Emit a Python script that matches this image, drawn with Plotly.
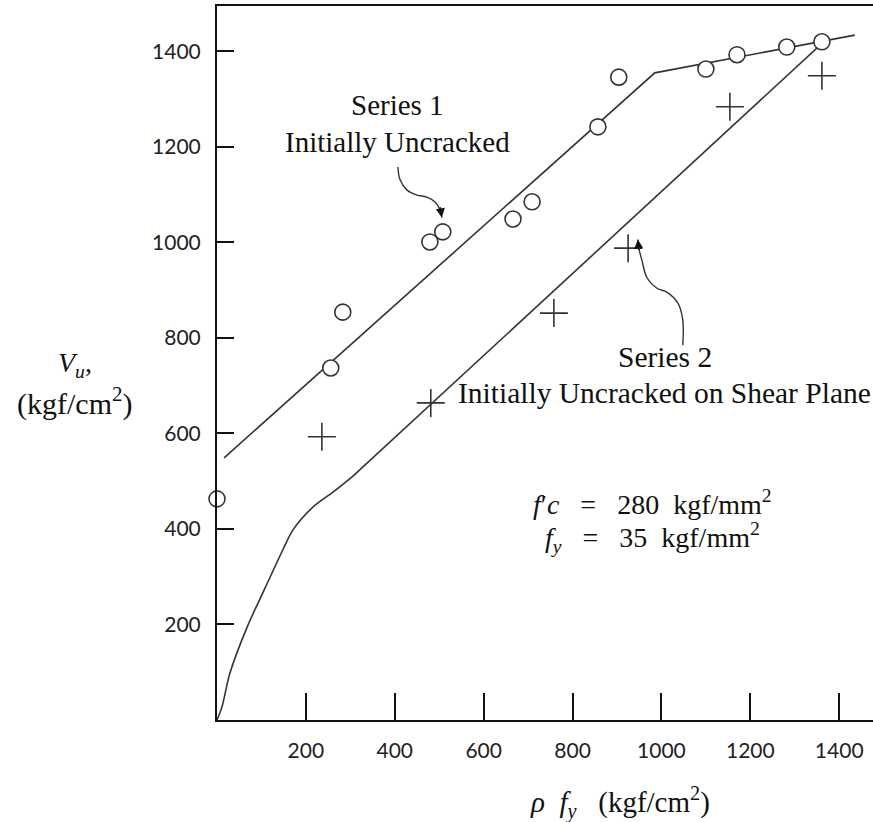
import plotly.graph_objects as go

# ---- data ----
s1_x = [0, 256, 283, 479, 508, 666, 709, 857, 904, 1100, 1170, 1282, 1361]
s1_y = [463, 737, 854, 1001, 1022, 1049, 1085, 1242, 1346, 1363, 1393, 1409, 1420]

s2_x = [236, 481, 758, 925, 1154, 1361]
s2_y = [593, 664, 852, 988, 1284, 1349]

fit1_x = [16, 985, 1435]
fit1_y = [549, 1355, 1434]

fit2_curve_x = [0, 11, 29, 68, 108, 148, 171, 216, 261, 304]
fit2_curve_y = [0, 27, 98, 195, 276, 356, 398, 446, 477, 509]
fit2_line_x = [304, 1357]
fit2_line_y = [509, 1413]

arrow1_x = [407, 412, 427, 450, 472, 490, 502, 506]
arrow1_y = [1158, 1131, 1110, 1099, 1095, 1085, 1068, 1052]
arrow2_x = [1048, 1048, 1037, 1012, 990, 967, 956, 949, 947]
arrow2_y = [785, 838, 873, 896, 904, 927, 963, 988, 1006]

x_ticks = [200, 400, 600, 800, 1000, 1200, 1400]
y_ticks = [200, 400, 600, 800, 1000, 1200, 1400]

LINE = "#333333"
TXT = "#111111"
SERIF = "Liberation Serif"
SP = "\u00a0"

fig = go.Figure()

fig.add_trace(go.Scatter(x=fit1_x, y=fit1_y, mode="lines",
                         line=dict(color=LINE, width=1.6), hoverinfo="skip"))
fig.add_trace(go.Scatter(x=fit2_curve_x, y=fit2_curve_y, mode="lines",
                         line=dict(color=LINE, width=1.6, shape="spline", smoothing=0.9),
                         hoverinfo="skip"))
fig.add_trace(go.Scatter(x=fit2_line_x, y=fit2_line_y, mode="lines",
                         line=dict(color=LINE, width=1.6), hoverinfo="skip"))

fig.add_trace(go.Scatter(x=s1_x, y=s1_y, mode="markers", cliponaxis=False,
                         marker=dict(symbol="circle", size=16, color="white",
                                     line=dict(color=LINE, width=1.6))))
fig.add_trace(go.Scatter(x=s2_x, y=s2_y, mode="markers", cliponaxis=False,
                         marker=dict(symbol="cross-thin", size=20,
                                     line=dict(color=LINE, width=1.6))))

# curved arrows
for ax_, ay_ in [(arrow1_x, arrow1_y), (arrow2_x, arrow2_y)]:
    fig.add_trace(go.Scatter(x=ax_, y=ay_, mode="lines",
                             line=dict(color=LINE, width=1.4, shape="spline", smoothing=1.0),
                             hoverinfo="skip"))

annotations = [
    dict(x=arrow1_x[-1], y=arrow1_y[-1], ax=-2, ay=-12, xref="x", yref="y",
         showarrow=True, arrowhead=2, arrowsize=1.3, arrowwidth=1.4, arrowcolor=TXT, text=""),
    dict(x=arrow2_x[-1], y=arrow2_y[-1], ax=1, ay=12, xref="x", yref="y",
         showarrow=True, arrowhead=2, arrowsize=1.3, arrowwidth=1.4, arrowcolor=TXT, text=""),
]

def txt(t, x, y, size, family=SERIF):
    return dict(text=t, x=x, y=y, xref="paper", yref="paper", showarrow=False,
                xanchor="center", yanchor="middle",
                font=dict(family=family, size=size, color=TXT))

annotations += [
    txt("Series 1", 0.2744, 0.8613, 29),
    txt("Initially Uncracked", 0.2744, 0.8095, 29),
    txt("Series 2", 0.6829, 0.5084, 29.5),
    txt("Initially Uncracked on Shear Plane", 0.6829, 0.458, 29.5),
    txt("<i>f</i>\u2032<i>c</i>" + SP * 3 + "=" + SP * 3 + "280" + SP * 2 + "kgf/mm<sup>2</sup>",
        0.6646, 0.3053, 28),
    txt("<i>f<sub>y</sub></i>" + SP * 3 + "=" + SP * 3 + "35" + SP * 2 + "kgf/mm<sup>2</sup>",
        0.6646, 0.2563, 28),
    txt("<i>V<sub>u</sub></i>,", -0.2165, 0.4972, 28),
    txt("(kgf/cm<sup>2</sup>)", -0.2165, 0.4454, 30),
    txt("<i>\u03c1" + SP * 2 + "f<sub>y</sub></i>" + SP * 3 + "(kgf/cm<sup>2</sup>)", 0.6143, -0.116, 29),
]

fig.update_layout(
    width=873, height=822,
    margin=dict(l=217, r=0, t=6, b=102),
    paper_bgcolor="white", plot_bgcolor="white",
    showlegend=False,
    annotations=annotations,
    xaxis=dict(range=[0, 1476], tickvals=x_ticks, ticks="inside", ticklen=27,
               tickwidth=2, tickcolor="#111", showline=True, linecolor="#111",
               linewidth=2, mirror=True, showgrid=False, zeroline=False,
               ticklabelstandoff=11,
               tickfont=dict(family="Lato", size=21, color="#222")),
    yaxis=dict(range=[0, 1495], tickvals=y_ticks, ticks="inside", ticklen=17,
               tickwidth=2, tickcolor="#111", showline=True, linecolor="#111",
               linewidth=2, showgrid=False, zeroline=False,
               ticklabelstandoff=10,
               tickfont=dict(family="Lato", size=21, color="#222")),
)

fig.write_html("out.html")
